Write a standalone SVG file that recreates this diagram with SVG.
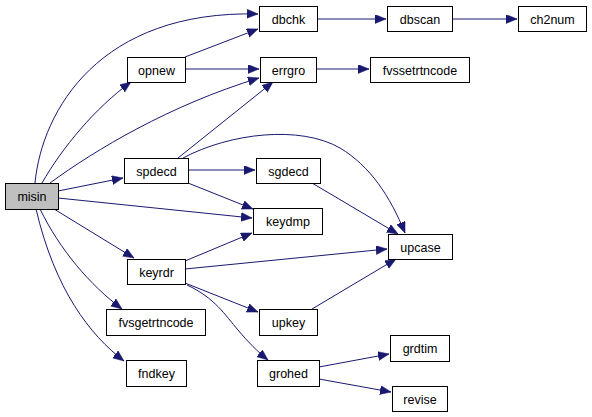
<svg xmlns="http://www.w3.org/2000/svg" width="592" height="417" viewBox="0 0 592 417">
<style>
.n rect{fill:#fff;stroke:#000;stroke-width:1}
.n text{font-family:"Liberation Sans",Arial,sans-serif;font-size:12.5px;fill:#000;text-anchor:middle}
#misin rect{fill:#bfbfbf}
.e path{fill:none;stroke:#191970;stroke-width:1;marker-end:url(#ah)}
</style>
<defs>
<marker id="ah" markerUnits="userSpaceOnUse" markerWidth="12" markerHeight="10" refX="11" refY="4.5" orient="auto">
<path d="M0,0 L11,4.5 L0,9 z" fill="#191970" stroke="#191970" stroke-width="0.5"/>
</marker>
</defs>
<rect width="592" height="417" fill="#fff"/>
<g class="e" id="edges">
<path d="M35,183 C42,110 100,10 258,14"/>
<path d="M42,183 C62,148 95,108 131,82"/>
<path d="M50,183 C95,150 170,105 259,78"/>
<path d="M58,191 L123,178"/>
<path d="M58,198 L252,218"/>
<path d="M54,209 L134,258"/>
<path d="M40,209 C60,250 90,285 122,309"/>
<path d="M36,209 C55,290 90,335 124,361"/>
<path d="M185,57 L258,29"/>
<path d="M185,69 L259,69"/>
<path d="M317,19 L386,19"/>
<path d="M452,19 L517,19"/>
<path d="M316,69 L369,69"/>
<path d="M178,158 L273,82"/>
<path d="M183,158 C230,133 300,125 340,148 C370,166 390,196 405,233"/>
<path d="M188,170 L255,170"/>
<path d="M188,183 L253,209"/>
<path d="M312,183 L398,234"/>
<path d="M185,261 L252,233"/>
<path d="M185,269 L387,249"/>
<path d="M185,283 L258,312"/>
<path d="M187,285 C215,298 225,315 238,330 C248,342 258,352 268,360"/>
<path d="M312,309 L396,259"/>
<path d="M319,367 L389,354"/>
<path d="M319,379 L391,392"/>
</g>
<g class="n" id="misin"><rect x="5.5" y="183.5" width="53" height="26"/><text x="32" y="201">misin</text></g>
<g class="n" id="dbchk"><rect x="259.5" y="6.5" width="58" height="25"/><text x="288.5" y="23.5">dbchk</text></g>
<g class="n" id="dbscan"><rect x="387.5" y="6.5" width="65" height="25"/><text x="420" y="23.5">dbscan</text></g>
<g class="n" id="ch2num"><rect x="518.5" y="6.5" width="68" height="25"/><text x="552.5" y="23.5">ch2num</text></g>
<g class="n" id="opnew"><rect x="127.5" y="57.5" width="58" height="25"/><text x="156.5" y="74.5">opnew</text></g>
<g class="n" id="errgro"><rect x="260.5" y="57.5" width="56" height="25"/><text x="288.5" y="74.5">errgro</text></g>
<g class="n" id="fvssetrtncode"><rect x="370.5" y="57.5" width="99" height="25"/><text x="420" y="74.5">fvssetrtncode</text></g>
<g class="n" id="spdecd"><rect x="124.5" y="158.5" width="64" height="25"/><text x="156.5" y="175.5">spdecd</text></g>
<g class="n" id="sgdecd"><rect x="256.5" y="158.5" width="64" height="25"/><text x="288.5" y="175.5">sgdecd</text></g>
<g class="n" id="keydmp"><rect x="253.5" y="208.5" width="69" height="26"/><text x="288" y="226">keydmp</text></g>
<g class="n" id="upcase"><rect x="388.5" y="234.5" width="64" height="25"/><text x="420.5" y="251.5">upcase</text></g>
<g class="n" id="keyrdr"><rect x="127.5" y="259.5" width="58" height="25"/><text x="156.5" y="276.5">keyrdr</text></g>
<g class="n" id="fvsgetrtncode"><rect x="106.5" y="309.5" width="99" height="26"/><text x="156" y="327">fvsgetrtncode</text></g>
<g class="n" id="upkey"><rect x="259.5" y="309.5" width="58" height="26"/><text x="288.5" y="327">upkey</text></g>
<g class="n" id="grdtim"><rect x="390.5" y="335.5" width="59" height="26"/><text x="420" y="353">grdtim</text></g>
<g class="n" id="fndkey"><rect x="126.5" y="360.5" width="60" height="26"/><text x="156.5" y="378">fndkey</text></g>
<g class="n" id="grohed"><rect x="257.5" y="360.5" width="62" height="26"/><text x="288.5" y="378">grohed</text></g>
<g class="n" id="revise"><rect x="392.5" y="386.5" width="55" height="25"/><text x="420" y="403.5">revise</text></g>
</svg>
